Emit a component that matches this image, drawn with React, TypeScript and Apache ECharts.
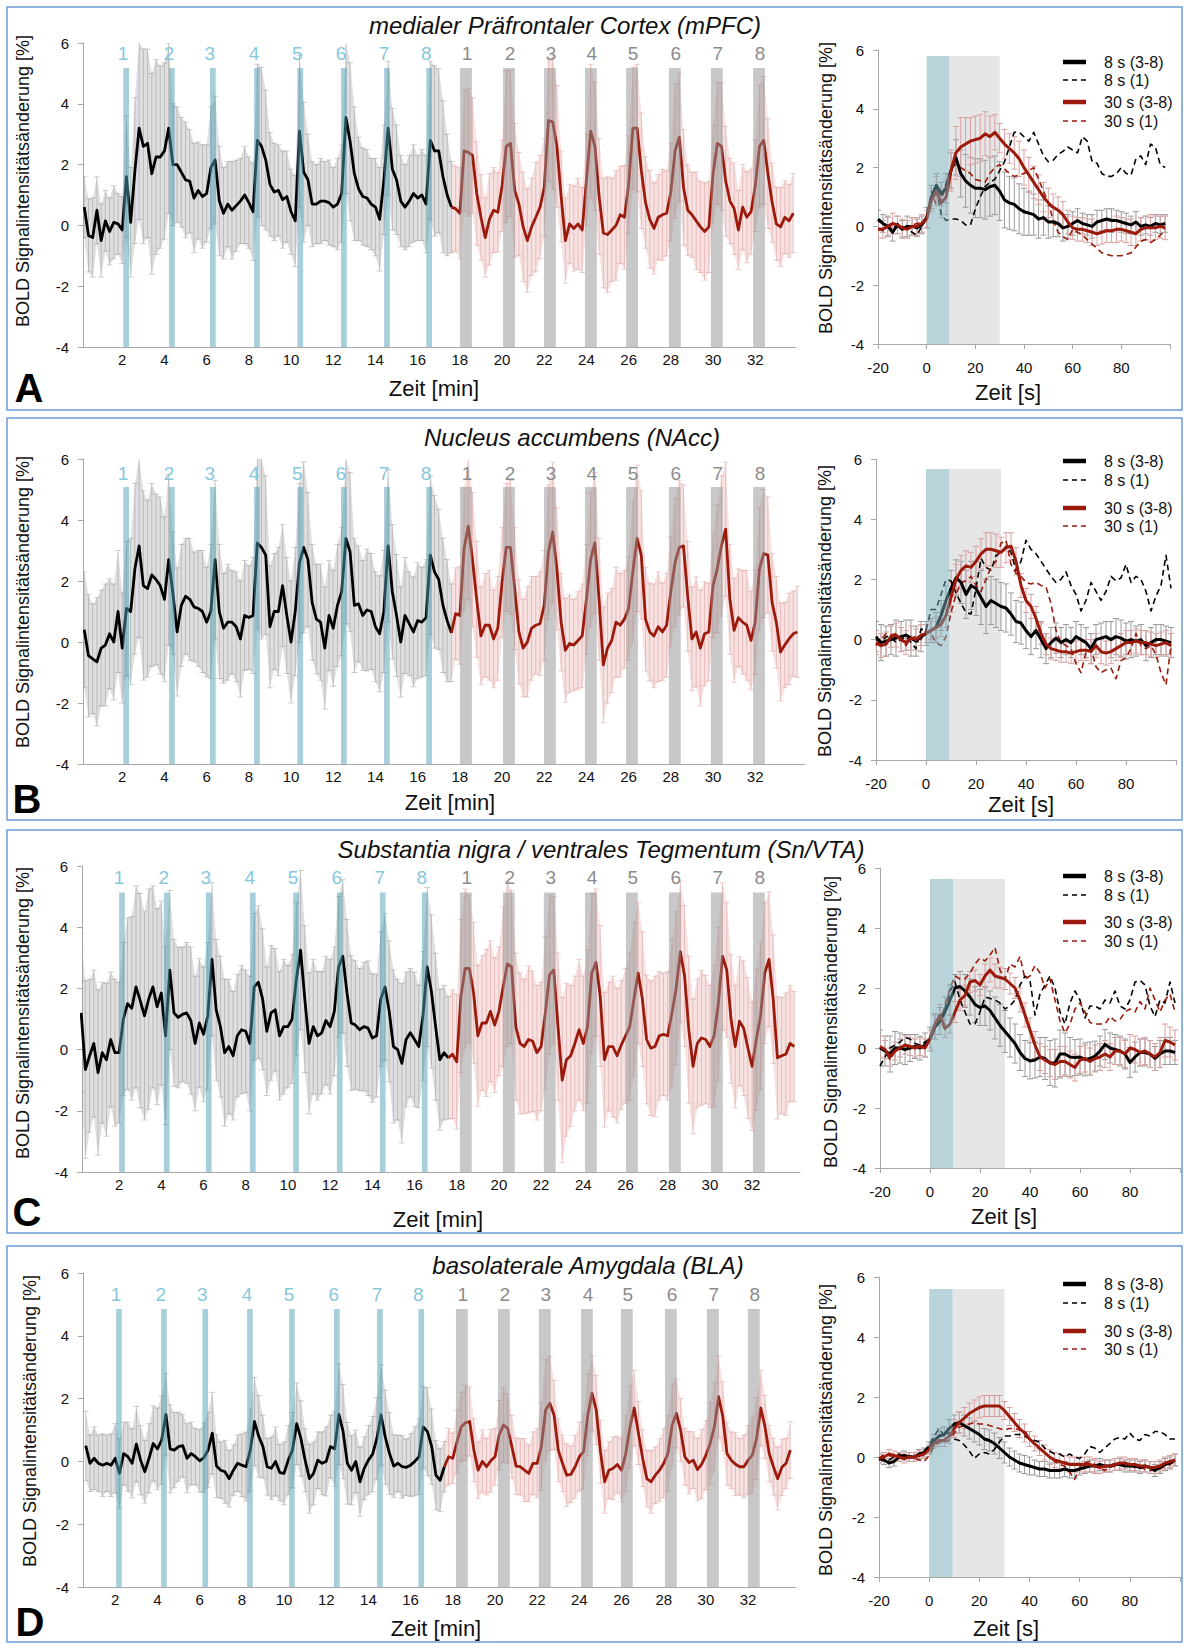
import React, { useEffect, useRef } from "react";
import * as echarts from "echarts";

const FONT = "'Liberation Sans', Arial, Helvetica, sans-serif";
const RED = "#9b1a0c";
const AXIS = "#a8a8a8";

// ---------- sampling grids ----------
const T_LEFT: number[] = Array.from({ length: 170 }, (_, i) => Math.round((0.2 + 0.2 * i) * 100) / 100); // minutes
const T_RIGHT: number[] = Array.from({ length: 60 }, (_, i) => -20 + 2 * i); // seconds
const LEFT_TICKS = [2, 4, 6, 8, 10, 12, 14, 16, 18, 20, 22, 24, 26, 28, 30, 32];
const SPLIT_MIN = 17.6; // 8 s block -> 30 s block
const STIM_8S = [0, 9.3];
const STIM_30S = [9.3, 30];

// ---------- Panel A (mPFC) ----------
const A_MEAN = [0.6,-0.33,-0.4,0.5,-0.5,0.15,-0.2,0.1,0.05,-0.15,
 1.6,0.1,1.8,3.2,2.6,2.7,1.7,2.25,2.25,2.45,
 3.2,2.0,2.0,1.75,1.5,1.45,0.9,1.15,0.95,1.05,
 1.9,2.15,0.8,0.4,0.7,0.5,0.65,0.8,1.0,0.75,
 0.45,2.8,2.6,2.15,1.35,1.1,1.15,0.85,0.95,0.45,
 0.15,3.1,1.75,1.5,0.7,0.7,0.8,0.8,0.75,0.6,
 0.7,1.05,3.55,2.75,1.7,1.2,0.95,0.9,0.7,0.6,
 0.2,1.5,3.2,1.85,1.5,0.8,0.6,0.8,1.05,0.9,
 1.0,0.7,2.8,2.45,2.45,1.6,1.0,0.6,0.55,0.4,
 2.45,2.4,2.3,1.05,0.27,-0.4,0.2,0.5,0.43,1.3,
 2.6,2.7,1.15,0.7,-0.05,-0.5,-0.05,0.27,0.6,1.25,
 3.45,3.4,2.6,0.95,-0.5,0.05,-0.1,0.05,-0.15,1.5,
 3.1,2.6,0.95,-0.25,-0.3,-0.15,0.0,0.35,0.27,1.35,
 3.2,3.2,1.8,0.75,0.2,-0.1,0.27,0.35,0.4,1.1,
 2.45,2.9,1.25,0.5,0.35,0.15,-0.05,-0.2,-0.05,1.7,
 2.7,2.6,1.45,0.8,0.55,-0.15,0.6,0.27,0.45,1.3,
 2.6,2.8,1.7,0.75,0.05,-0.05,0.27,0.15,0.4,null];
const A_ERR = [1.0,1.2,1.3,1.1,1.2,1.0,1.1,1.2,1.0,1.1,
 2.0,1.8,2.4, 3.0,3.2,3.1,3.3,3.2,3.0,2.9,2.8, 2.0,1.9,1.8,1.9,1.7,1.8,1.6,1.7,1.6,
 2.0,2.1,1.8, 1.5,1.4,1.6,1.5,1.4,1.6,1.5,1.6, 2.5,2.6,2.3, 1.7,1.6,1.5,1.6,1.5,1.4,1.5,
 2.5,2.3, 1.5,1.4,1.3,1.4,1.3,1.4,1.3,1.5,1.6, 2.5,2.6,2.2, 1.7,1.6,1.6,1.5,1.6,1.7,1.8,
 2.2,2.0,1.8, 1.5,1.4,1.5,1.6,1.4,1.5,1.6, 2.6,2.8,2.7,2.5,2.0,
 1.5,1.4,1.5, 2.0,2.1,1.9,1.7, 1.4,1.3,1.5,1.4,1.3,1.5, 2.5,2.4,2.2, 1.7,1.8,1.7,1.6,1.8,1.7,1.6,
 2.0,2.2,2.0, 1.5,1.4,1.3,1.4,1.5,1.4,1.5, 2.2,2.1,1.9, 1.8,1.9,1.7,1.8,1.6,1.7,1.6,
 2.0,2.1,1.9, 1.5,1.6,1.5,1.4,1.5,1.4,1.6, 2.2,2.1,1.9, 1.5,1.4,1.6,1.5,1.6,1.5,1.6,
 2.0,2.1,1.8, 1.4,1.5,1.3,1.4,1.5,1.4,1.5, 2.0,2.1,1.8, 1.3,1.2,1.3,1.2,1.2,1.3,1.2];
const A_BLUE = [2.05, 4.22, 6.16, 8.25, 10.3, 12.37, 14.41, 16.41];
const A_GREY = [18.01, 20.05, 21.99, 23.93, 25.88, 27.91, 29.9, 31.9];

// ---------- Panel B (NAcc) ----------
const B_MEAN = [0.4,-0.45,-0.55,-0.65,-0.2,-0.1,0.27,0,1.0,-0.2,
 1.1,1.0,2.4,3.15,1.85,1.75,2.2,2.05,1.85,1.4,
 2.7,1.6,0.33,1.2,1.5,1.4,1.15,1.1,1.0,0.65,
 1.0,2.7,1.0,0.45,0.65,0.65,0.5,0.1,0.87,0.8,
 0.87,3.25,3.1,2.85,0.5,1.0,1.0,1.85,0.87,0,
 1.0,2.6,3.1,2.7,1.3,0.75,0.65,-0.2,0.87,0.45,
 1.2,1.65,3.4,2.95,1.2,1.25,0.87,1.05,1.0,0.5,
 0.27,1.0,3.15,1.65,0.87,0,0.87,0.6,0.33,0.7,
 0.65,0.8,2.85,2.3,2.05,1.2,0.7,0.3,0.93,0.87,
 3.05,3.8,2.7,1.4,0.2,0.55,0.55,0.1,0.45,1.95,
 3.1,3.1,1.75,0.33,-0.2,0,0.45,0.55,0.6,1.2,
 2.95,3.6,2.4,0.65,-0.27,-0.05,-0.1,0.05,0.2,1.4,
 2.7,3.25,1.4,-0.75,-0.2,0.05,0.65,0.55,0.75,1.1,
 2.3,3.4,2.85,0.75,0.33,0.2,0.5,0.33,0.55,1.65,
 2.6,3.1,3.15,1.5,0.1,0.33,-0.2,0.27,0.33,1.85,
 2.4,3.15,3.7,1.4,0.38,0.8,0.65,0.55,0.05,0.65,
 2.4,2.9,2.85,1.3,0.65,-0.33,-0.1,0.1,0.27,0.33];
const B_ERR = [1.9,2.0,1.8,2.1,1.9,2.0,1.8,1.9,2.0,1.8,
 2.2,2.4,2.8, 3.0,3.1,2.9,3.0,2.8,2.9,2.7,2.8, 2.0,2.1,2.0,1.9,2.0,1.8,1.9,2.0,1.8,
 2.2,2.6,2.2, 1.8,1.9,1.7,1.8,1.9,1.8,1.7,1.9, 2.8,3.0,2.6, 2.0,1.9,2.1,2.0,1.9,2.0,2.1,
 2.6,2.8, 2.2,1.9,1.8,1.9,2.0,1.8,1.9,2.0,2.1, 2.8,2.6,2.2, 1.9,1.8,2.0,1.9,1.8,1.9,2.0,
 2.5,2.2,2.0, 1.8,1.9,1.7,1.8,1.9,1.8,1.9, 2.6,2.5,2.3,2.2,2.0,
 1.6,1.5,1.6, 2.0,2.4,2.2,1.9, 1.6,1.7,1.8,1.6,1.7,1.8, 2.1,2.2,2.0, 1.7,1.6,1.8,1.7,1.6,1.7,1.8,
 2.2,2.3,2.0, 1.6,1.7,1.6,1.5,1.6,1.7,1.8, 2.2,2.3,2.0, 1.9,1.8,1.7,1.8,1.7,1.6,1.7,
 2.3,2.4,2.1, 1.7,1.6,1.7,1.8,1.6,1.7,1.8, 2.1,2.2,2.0, 1.8,1.7,1.8,1.9,1.7,1.6,1.7,
 2.1,2.3,2.2, 1.8,1.7,1.6,1.7,1.8,1.6,1.7, 2.0,2.1,1.9, 1.6,1.5,1.6,1.4,1.5,1.4,1.5];
const B_BLUE = [2.05, 4.22, 6.16, 8.25, 10.3, 12.37, 14.41, 16.41];
const B_GREY = [18.01, 20.05, 21.99, 23.93, 25.88, 27.91, 29.9, 31.9];

// ---------- Panel C (Sn/VTA) ----------
const C_MEAN = [1.2,-0.65,-0.2,0.2,-0.75,-0.1,-0.33,0.33,-0.1,-0.1,
 1.0,1.5,1.35,2.05,1.6,1.1,1.65,2.05,1.4,1.85,
 0.45,2.6,1.2,1.05,1.15,1.2,0.95,0.2,0.87,0.5,
 1.1,2.95,1.3,0.75,-0.1,0.1,-0.2,0.45,0.65,0.6,
 0.2,2.05,2.2,1.65,0.6,1.2,1.3,0.45,0.75,0.75,
 1.0,2.3,3.25,1.65,0.2,0.75,0.45,0.55,0.95,0.75,
 1.25,2.7,3.05,1.85,0.87,0.8,0.65,0.75,0.7,0.38,
 0.45,1.65,2.05,1.25,0.1,0,-0.45,0.33,0.55,0.33,
 0.1,1.1,2.7,1.9,0.75,-0.33,-0.1,-0.27,-0.15,-0.4,
 1.75,2.65,2.65,1.85,0.45,0.87,0.87,1.25,0.8,1.25,
 2.05,2.8,2.7,0.75,0.2,0.1,0.33,0.27,-0.1,0.1,
 1.2,2.45,2.6,0.75,-1.0,-0.33,-0.2,0.2,0.65,0.2,
 0.75,2.5,2.85,1.75,-0.33,0.1,0.1,-0.2,0.15,0.45,
 0.75,1.65,2.5,1.65,0.33,0.05,0.1,0.45,0.5,0.45,
 1.2,2.0,3.2,2.4,0.65,-0.55,0.2,0.38,0.33,0.1,
 0.45,1.5,3.05,2.6,1.0,0.1,0.93,0.7,0.05,-0.55,
 0.33,1.1,2.5,2.95,1.65,-0.27,-0.2,-0.15,0.2,0.1];
const C_ERR = [2.6,2.9,2.5,2.4,2.7,2.3,2.5,2.2,2.4,2.3,
 2.5,2.8,3.0, 3.3,3.5,3.4,3.6,3.3,3.2,3.0,2.9, 2.6,2.4,2.3,2.2,2.3,2.4,2.2,2.1,2.2,
 2.4,2.5,2.3, 2.3,2.4,2.2,2.1,2.0,2.1,2.0,2.2, 2.4,2.5,2.3, 2.1,2.2,2.0,2.1,2.2,2.0,2.1,
 2.5,2.6, 2.4,2.3,2.2,2.1,2.0,2.1,2.2,2.1,2.3, 2.5,2.4,2.2, 2.1,2.0,2.1,2.2,2.1,2.0,2.2,
 2.4,2.3,2.5, 2.3,2.6,2.2,2.1,2.2,2.0,2.1, 2.6,2.5,2.4,2.3,2.2,
 2.0,2.1,2.2, 2.5,2.6,2.4,2.3, 2.3,2.2,2.4,2.3,2.2,2.1, 2.6,2.7,2.5, 2.4,2.3,2.2,2.4,2.3,2.2,2.1,
 2.5,2.6,2.4, 2.4,2.7,2.5,2.3,2.2,2.3,2.2, 2.5,2.6,2.4, 2.3,2.2,2.1,2.3,2.2,2.1,2.2,
 2.4,2.5,2.3, 2.2,2.1,2.2,2.3,2.1,2.0,2.1, 2.4,2.5,2.3, 2.3,2.4,2.2,2.1,2.2,2.1,2.0,
 2.3,2.5,2.4, 2.2,2.1,2.0,2.1,2.2,2.3,2.1, 2.3,2.4,2.3, 2.2,2.1,2.0,1.9,2.0,1.9,1.8];
const C_BLUE = [2.0, 4.12, 6.11, 8.2, 10.25, 12.32, 14.36, 16.35];
const C_GREY = [18.15, 20.19, 22.13, 24.08, 26.02, 28.06, 30.05, 32.04];

// ---------- Panel D (BLA) ----------
const D_MEAN = [null,null,0.5,-0.06,0.1,-0.06,-0.12,-0.06,-0.12,0.1,
 -0.38,0.25,0.15,-0.06,0.55,0.04,-0.33,0.1,0.57,0.4,
 0.68,1.5,0.4,0.36,0.47,0.5,0.1,0.25,0.15,0.02,
 0.12,0.36,0.9,-0.15,-0.28,-0.33,-0.55,-0.28,-0.06,-0.12,
 -0.17,0.36,1.27,0.8,0.47,-0.17,-0.22,0,-0.36,-0.38,
 0.04,0.36,1.2,0.73,0.04,-0.55,-0.38,0.04,-0.06,0,
 0.47,0.4,1.5,0.95,-0.06,-0.28,0,-0.65,-0.22,0.04,
 0.23,0.73,1.48,0.77,0.25,-0.15,-0.06,-0.17,-0.19,-0.12,
 0,0.15,1.1,0.95,0.47,-0.44,-0.6,-0.17,0.15,0.1,
 0.63,1.1,1.23,1.27,0.36,-0.28,0,-0.17,0.02,0.15,
 0.84,1.16,1.05,0.47,-0.15,-0.17,-0.28,-0.38,-0.06,-0.06,
 0.47,1.64,1.85,1.48,0.36,-0.06,-0.44,-0.41,-0.17,0.15,
 0.31,1.48,2.17,1.64,0.31,-0.65,-0.28,-0.22,-0.1,-0.28,
 0.25,1.1,1.7,0.9,0.1,-0.55,-0.65,-0.44,-0.28,-0.06,
 0.25,1.16,1.53,1.0,0.15,-0.04,0.04,-0.26,-0.09,0.2,
 0.57,1.1,2.06,1.43,0.25,0.04,-0.09,-0.17,-0.17,0.04,
 0.2,0.73,1.7,1.1,0.25,-0.17,-0.55,-0.19,-0.06,0.36];
const D_ERR = [1.0,1.0,1.1,0.9,1.0,0.9,1.0,0.9,1.0,1.1,
 1.1,1.0,1.1, 1.1,1.2,1.1,1.0,1.1,1.2,1.3,1.4, 1.3,1.4,1.2,1.1,1.0,1.1,1.0,0.9,1.0,
 1.1,1.2,1.3, 1.0,0.9,1.0,0.9,0.8,0.9,1.0,1.1, 1.3,1.4,1.3, 1.0,0.9,1.0,1.1,0.9,1.0,1.1,
 1.2,1.3, 1.2,1.0,1.1,1.0,0.9,1.0,1.1,1.0,1.2, 1.6,1.5,1.3, 1.1,1.0,1.1,1.0,1.1,1.2,1.3,
 1.6,1.5,1.3, 1.0,0.9,1.0,0.9,1.0,1.1,1.2, 1.3,1.4,1.2,1.1,1.0,
 0.8,0.9,0.8, 1.0,1.1,1.2,1.1, 1.0,0.9,1.0,0.9,1.0,0.9, 1.1,1.2,1.1, 1.0,0.9,0.9,1.0,0.9,1.0,1.1,
 1.4,1.6,1.5, 1.1,1.0,0.9,1.0,0.9,1.0,1.1, 1.2,1.3,1.2, 1.1,1.0,1.0,0.9,1.0,0.9,1.0,
 1.2,1.3,1.2, 1.0,0.9,0.9,1.0,0.9,1.0,1.1, 1.2,1.3,1.1, 1.0,0.9,1.0,0.9,1.0,1.1,1.1,
 1.3,1.4,1.3, 1.1,1.0,0.9,1.0,0.9,1.0,1.1, 1.2,1.3,1.2, 1.0,0.9,0.9,1.0,0.9,0.8,0.9];
const D_BLUE = [2.04, 4.17, 6.13, 8.25, 10.24, 12.37, 14.41, 16.37];
const D_GREY = [18.15, 20.14, 22.08, 24.08, 25.97, 28.06, 30.05, 31.99];

// ---------- event-related averages (t = -20..98 s) ----------
const RA_BLK = [0.25,0.1,0.0,-0.2,0.05,-0.1,0.0,0.0,-0.05,0.05, 0.3,1.0,1.4,1.1,1.3,1.9,2.35,1.8,1.55,1.4, 1.3,1.3,1.25,1.35,1.4,1.2,0.9,0.8,0.75,0.6, 0.5,0.45,0.4,0.25,0.3,0.15,0.15,0.1,-0.05,0.0, 0.1,0.2,0.1,0.05,0.0,0.15,0.2,0.25,0.2,0.2, 0.15,0.1,0.05,0.15,0.0,0.05,0.0,0.1,0.05,0.1];
const RA_BLK1 = [0.2,0.1,0.0,-0.1,0.1,0.0,-0.1,-0.2,-0.3,0.0, 0.3,1.0,1.3,0.4,0.2,0.25,0.25,0.2,0.05,0.05, 0.6,1.0,1.35,1.5,1.6,1.9,2.2,2.7,3.2,3.2, 3.05,2.9,3.2,2.8,2.4,2.2,2.25,2.45,2.55,2.7, 2.6,2.5,3.05,2.9,2.2,2.15,1.8,1.7,1.7,1.8, 2.0,1.8,1.75,2.3,2.4,2.1,2.8,2.7,2.1,2.0];
const RA_RED = [-0.1,-0.1,0.0,0.1,0.05,-0.05,-0.1,0.0,0.0,0.1, 0.25,0.9,1.2,0.8,1.0,1.9,2.5,2.7,2.8,2.9, 2.95,3.0,3.15,3.05,3.2,3.0,2.8,2.65,2.5,2.3, 2.0,1.75,1.5,1.25,1.0,0.8,0.65,0.55,0.4,0.15, -0.05,-0.1,-0.1,-0.15,-0.2,-0.25,-0.2,-0.15,-0.15,-0.1, -0.1,-0.15,-0.2,-0.25,-0.1,-0.05,-0.05,-0.05,0.0,-0.05];
const RA_RED1 = [-0.1,-0.15,0.0,0.05,0.0,-0.1,-0.05,0.05,0.1,0.15, 0.3,1.2,0.7,0.8,1.5,2.0,2.1,2.0,1.9,1.8, 1.6,1.55,1.5,1.8,2.0,2.1,1.95,1.8,1.7,1.75, 1.8,1.9,2.0,1.6,1.2,0.8,0.2,-0.2,-0.35,-0.45, -0.1,-0.2,-0.3,-0.45,-0.6,-0.75,-0.9,-0.95,-1.0,-1.0, -1.0,-0.95,-0.9,-0.7,-0.5,-0.45,-0.55,-0.45,-0.3,-0.1];
const RA_BLK_ERR = [0.3,0.3,0.35,0.3,0.3,0.3,0.35,0.3,0.3,0.3, 0.35,0.4,0.4,0.4,0.5,0.6,0.6,0.8,0.9,0.95, 1.0,1.0,1.0,1.0,1.0,1.0,0.95,0.9,0.9,0.85, 0.8,0.75,0.7,0.65,0.6,0.55,0.5,0.45,0.45,0.4, 0.4,0.4,0.35,0.35,0.4,0.4,0.35,0.35,0.4,0.35, 0.35,0.35,0.3,0.35,0.3,0.3,0.3,0.3,0.3,0.3];
const RA_RED_ERR = [0.3,0.3,0.3,0.35,0.3,0.3,0.3,0.3,0.3,0.3, 0.3,0.4,0.5,0.5,0.6,0.7,0.9,1.0,0.9,0.8, 0.8,0.8,0.75,0.7,0.6,0.5,0.5,0.5,0.55,0.6, 0.6,0.6,0.55,0.5,0.5,0.5,0.45,0.45,0.45,0.4, 0.4,0.4,0.4,0.4,0.45,0.4,0.4,0.4,0.4,0.45, 0.4,0.4,0.45,0.4,0.4,0.4,0.45,0.4,0.4,0.4];

const RB_BLK = [0.1,-0.1,-0.05,0.0,0.05,0.1,0.15,0.05,-0.05,0.1, 0.2,0.3,0.4,0.8,1.3,1.7,2.05,1.9,1.5,1.8, 1.7,1.4,1.1,1.3,1.2,1.1,1.05,0.85,0.6,0.55, 0.3,0.1,0.3,0.0,-0.3,-0.1,0.05,-0.1,0.0,-0.1, 0.1,0.0,-0.1,-0.3,0.0,0.05,0.1,0.0,0.1,0.05, -0.05,0.0,-0.05,0.0,-0.2,-0.1,0.0,0.0,-0.05,-0.1];
const RB_BLK1 = [0.0,-0.1,0.1,0.1,-0.1,0.0,0.1,-0.1,-0.3,0.35, 0.3,1.0,1.0,1.5,2.0,1.95,1.55,1.2,0.9,0.85, 1.7,2.7,2.4,2.3,2.8,2.9,3.1,2.9,2.3,2.6, 3.3,3.0,2.85,2.6,2.35,2.1,1.9,2.0,2.25,1.8, 1.5,0.95,1.3,1.9,1.6,1.3,1.6,2.1,1.95,2.05, 2.5,1.9,2.1,2.0,1.6,0.95,1.45,1.8,2.8,1.7];
const RB_RED = [-0.1,-0.2,-0.15,0.1,0.15,0.0,-0.1,0.05,0.0,0.15, 0.2,0.3,0.4,0.5,0.8,1.4,2.0,2.3,2.45,2.4, 2.6,2.85,3.0,3.0,2.95,2.9,3.05,3.1,2.6,1.8, 1.3,1.1,0.7,0.2,-0.15,-0.3,-0.35,-0.4,-0.4,-0.45, -0.4,-0.35,-0.35,-0.4,-0.2,-0.4,-0.45,-0.4,-0.3,-0.2, -0.1,-0.1,-0.05,-0.1,-0.1,-0.15,-0.2,-0.15,-0.1,-0.2];
const RB_RED1 = [-0.2,0.0,0.2,0.15,0.2,0.0,-0.2,0.05,0.1,0.0, 0.3,0.2,-0.1,-0.2,0.1,0.9,1.5,1.9,1.95,2.1, 1.8,1.6,2.0,2.4,2.6,3.2,3.3,2.5,2.2,2.1, 1.9,1.85,1.9,1.8,1.75,1.2,0.3,-0.1,-0.2,-0.3, -0.8,-1.1,-0.4,-0.3,-0.9,-1.1,-1.0,-0.95,-1.3,-0.7, -0.6,-0.3,0.2,-0.2,-0.3,-0.2,-0.5,-1.1,-1.5,-0.2];
const RB_BLK_ERR = [0.5,0.6,0.5,0.5,0.6,0.5,0.5,0.6,0.5,0.5, 0.4,0.4,0.5,0.5,0.5,0.6,0.6,0.7,0.8,0.8, 0.9,0.9,0.9,0.8,0.8,0.8,0.8,0.7,0.7,0.7, 0.6,0.6,0.6,0.6,0.5,0.5,0.5,0.5,0.5,0.5, 0.5,0.5,0.5,0.5,0.5,0.5,0.5,0.6,0.6,0.6, 0.6,0.6,0.5,0.5,0.5,0.5,0.5,0.5,0.5,0.5];
const RB_RED_ERR = [0.4,0.4,0.4,0.35,0.4,0.4,0.4,0.4,0.35,0.35, 0.3,0.3,0.35,0.4,0.4,0.5,0.5,0.5,0.5,0.5, 0.5,0.5,0.55,0.55,0.55,0.5,0.5,0.45,0.45,0.4, 0.4,0.4,0.4,0.35,0.35,0.35,0.35,0.35,0.35,0.35, 0.35,0.35,0.35,0.4,0.4,0.4,0.4,0.4,0.4,0.4, 0.4,0.4,0.4,0.4,0.4,0.4,0.4,0.4,0.4,0.4];

const RC_BLK = [0.0,-0.1,-0.2,0.0,0.0,-0.05,0.0,0.05,0.0,0.1, 0.3,0.7,0.9,1.2,1.6,2.0,2.05,1.9,1.7,1.45, 1.35,1.4,1.25,1.0,0.75,0.55,0.35,0.15,-0.15,-0.35, -0.43,-0.4,-0.3,-0.35,-0.5,-0.5,-0.2,-0.2,-0.3,-0.32, -0.3,-0.38,-0.35,-0.27,-0.1,0.12,0.0,-0.05,-0.1,-0.2, -0.48,-0.3,-0.15,-0.15,-0.2,-0.35,-0.2,-0.1,-0.1,-0.15];
const RC_BLK1 = [-0.6,-0.3,0.0,0.1,0.2,0.35,0.3,0.15,0.1,0.2, 0.3,0.7,1.0,1.3,1.9,2.2,1.6,1.2,0.8,0.8, 1.2,1.7,1.65,1.6,1.5,1.3,1.4,1.6,2.1,2.4, 2.25,1.1,1.8,2.1,2.4,2.0,1.2,0.8,1.5,1.9, 1.6,1.0,1.4,1.4,1.3,1.6,1.5,1.9,1.4,1.3, 1.6,2.2,2.25,2.1,1.4,1.05,1.6,1.5,2.2,1.5];
const RC_RED = [0.05,-0.05,-0.3,-0.1,0.0,0.1,0.05,0.0,0.05,0.0, 0.3,0.8,1.1,0.65,0.8,1.2,1.6,1.75,2.2,2.25, 2.1,2.4,2.6,2.4,2.35,2.3,2.15,2.0,1.6,1.1, 0.6,0.1,-0.3,-0.4,-0.5,-0.55,-0.45,-0.45,-0.55,-0.65, -0.4,-0.35,-0.45,-0.35,-0.3,-0.2,-0.3,-0.1,-0.1,-0.2, 0.0,-0.05,-0.15,-0.1,-0.2,-0.3,-0.15,0.25,0.2,0.1];
const RC_RED1 = [0.0,-0.1,-0.4,-0.1,0.0,0.1,0.0,0.0,0.1,0.0, 0.3,0.8,0.9,1.4,2.0,2.4,2.3,2.3,2.5,2.8, 3.0,2.9,3.1,3.35,2.6,2.3,2.8,2.7,3.05,2.3, 2.4,2.75,2.5,2.0,2.3,1.6,0.9,0.5,0.8,1.3, 1.5,1.2,0.85,0.8,0.8,0.8,1.05,0.9,0.95,1.2, 1.3,1.2,1.55,1.3,2.0,1.6,1.2,1.6,1.8,1.2];
const RC_BLK_ERR = [0.6,0.5,0.6,0.55,0.5,0.5,0.45,0.4,0.4,0.4, 0.4,0.4,0.45,0.5,0.5,0.45,0.5,0.55,0.6,0.6, 0.6,0.65,0.65,0.7,0.7,0.7,0.65,0.65,0.6,0.6, 0.6,0.6,0.65,0.7,0.75,0.8,0.8,0.7,0.65,0.6, 0.6,0.55,0.55,0.5,0.5,0.5,0.5,0.5,0.5,0.5, 0.5,0.5,0.45,0.45,0.45,0.4,0.45,0.45,0.45,0.4];
const RC_RED_ERR = [0.35,0.3,0.3,0.3,0.3,0.3,0.3,0.3,0.3,0.3, 0.3,0.35,0.35,0.3,0.3,0.35,0.35,0.35,0.35,0.35, 0.35,0.4,0.4,0.4,0.35,0.35,0.35,0.35,0.4,0.4, 0.4,0.45,0.45,0.45,0.45,0.5,0.5,0.5,0.45,0.45, 0.45,0.45,0.45,0.45,0.45,0.45,0.45,0.45,0.45,0.45, 0.45,0.45,0.45,0.45,0.45,0.45,0.5,0.55,0.5,0.5];

const RD_BLK = [-0.05,-0.1,-0.2,-0.15,0.0,0.05,0.0,0.0,0.1,0.15, 0.3,0.55,0.7,0.75,0.95,1.1,1.15,1.05,0.95,0.85, 0.75,0.6,0.55,0.45,0.3,0.15,0.0,-0.1,-0.2,-0.25, -0.3,-0.35,-0.4,-0.4,-0.45,-0.45,-0.45,-0.4,-0.45,-0.45, -0.4,-0.35,-0.3,-0.3,-0.25,-0.3,-0.3,-0.25,-0.25,-0.3, -0.3,-0.3,-0.35,-0.3,-0.35,-0.45,-0.35,-0.25,-0.2,-0.1];
const RD_BLK1 = [-0.1,-0.05,-0.1,0.0,0.1,0.0,0.05,0.0,0.1,0.2, 0.4,0.7,0.95,0.7,0.8,0.6,0.55,0.4,0.2,-0.05, 0.1,0.15,0.1,0.25,0.5,0.7,0.7,0.75,0.75,0.7, 0.6,0.55,0.5,0.3,0.2,0.1,0.1,0.0,0.1,0.0, -0.05,0.1,0.35,0.3,0.15,0.3,0.45,0.6,0.65,0.6, 0.8,0.6,0.55,0.75,0.7,0.85,0.85,0.75,0.6,0.6];
const RD_RED = [-0.05,0.0,0.1,0.05,0.0,-0.05,0.0,0.0,0.05,0.1, 0.25,0.45,0.55,0.55,0.7,0.95,1.15,1.3,1.45,1.55, 1.65,1.7,1.7,1.7,1.7,1.55,1.35,1.15,0.95,0.8, 0.6,0.45,0.3,0.15,0.0,-0.1,-0.15,-0.2,-0.25,-0.25, -0.25,-0.25,-0.25,-0.3,-0.35,-0.3,-0.3,-0.25,-0.2,-0.2, -0.25,-0.25,-0.3,-0.3,-0.35,-0.35,-0.3,-0.2,-0.15,-0.1];
const RD_RED1 = [-0.05,0.1,0.05,0.0,0.05,0.1,0.0,-0.05,-0.1,-0.15, 0.05,0.35,0.5,0.5,0.55,0.8,1.0,1.05,1.1,1.15, 1.1,1.1,1.05,1.0,0.95,0.9,0.95,0.95,0.9,0.9, 0.6,0.4,0.25,0.15,0.0,-0.15,-0.25,-0.3,-0.5,-0.75, -0.35,-0.2,-0.15,-0.25,-0.35,-0.45,-0.35,-0.3,-0.25,-0.25, -0.3,-0.35,-0.35,-0.4,-0.45,-0.45,-0.4,-0.3,-0.25,-0.15];
const RD_BLK_ERR = [0.15,0.15,0.15,0.15,0.15,0.15,0.15,0.15,0.15,0.15, 0.2,0.2,0.25,0.25,0.3,0.3,0.35,0.35,0.35,0.35, 0.35,0.35,0.35,0.35,0.35,0.35,0.3,0.3,0.3,0.3, 0.3,0.25,0.25,0.25,0.25,0.25,0.25,0.25,0.25,0.25, 0.2,0.2,0.2,0.2,0.2,0.2,0.2,0.2,0.2,0.2, 0.2,0.2,0.2,0.2,0.2,0.2,0.2,0.2,0.2,0.2];
const RD_RED_ERR = [0.15,0.15,0.15,0.15,0.15,0.15,0.15,0.15,0.15,0.15, 0.15,0.15,0.2,0.2,0.25,0.3,0.35,0.35,0.35,0.35, 0.35,0.35,0.35,0.35,0.35,0.3,0.3,0.3,0.3,0.3, 0.25,0.25,0.25,0.25,0.25,0.25,0.25,0.25,0.25,0.25, 0.25,0.25,0.25,0.25,0.2,0.2,0.2,0.2,0.2,0.2, 0.2,0.2,0.2,0.2,0.2,0.2,0.2,0.2,0.2,0.2];

const LEGEND = ["8 s (3-8)", "8 s (1)", "30 s (3-8)", "30 s (1)"];
const Y_TITLE = "BOLD Signalintensitätsänderung [%]";

const DATA = [
  { mean: A_MEAN, err: A_ERR, blue: A_BLUE, grey: A_GREY, blk: RA_BLK, blk1: RA_BLK1, red: RA_RED, red1: RA_RED1, blkErr: RA_BLK_ERR, redErr: RA_RED_ERR },
  { mean: B_MEAN, err: B_ERR, blue: B_BLUE, grey: B_GREY, blk: RB_BLK, blk1: RB_BLK1, red: RB_RED, red1: RB_RED1, blkErr: RB_BLK_ERR, redErr: RB_RED_ERR },
  { mean: C_MEAN, err: C_ERR, blue: C_BLUE, grey: C_GREY, blk: RC_BLK, blk1: RC_BLK1, red: RC_RED, red1: RC_RED1, blkErr: RC_BLK_ERR, redErr: RC_RED_ERR },
  { mean: D_MEAN, err: D_ERR, blue: D_BLUE, grey: D_GREY, blk: RD_BLK, blk1: RD_BLK1, red: RD_RED, red1: RD_RED1, blkErr: RD_BLK_ERR, redErr: RD_RED_ERR },
];

// ---------- layout (pixels) ----------
const LAYOUT = [
  { title: "medialer Präfrontaler Cortex (mPFC)", letter: "A", box: [7, 7, 1182, 410], titleXY: [565, 25], letterXY: [29, 388],
    lg: { left: 83, right: 796, top: 43, bottom: 347, xMin: 0.14, xMax: 33.93 }, barTop: 5.18, numY: 5.67,
    rg: { left: 878, right: 1170, top: 50, bottom: 344 }, shadeTop: 5.8,
    xtL: [434, 388], xtR: [1008, 392], ytL: [23, 181], ytR: [826, 188], legY: [62, 80, 102, 121] },
  { title: "Nucleus accumbens (NAcc)", letter: "B", box: [7, 418, 1182, 820], titleXY: [572, 437], letterXY: [27, 799],
    lg: { left: 83, right: 805, top: 459, bottom: 764, xMin: 0.14, xMax: 34.36 }, barTop: 5.08, numY: 5.54,
    rg: { left: 876, right: 1176, top: 459, bottom: 760 }, shadeTop: 5.67,
    xtL: [450, 802], xtR: [1021, 804], ytL: [23, 602], ytR: [825, 611], legY: [461, 480, 508, 526] },
  { title: "Substantia nigra / ventrales Tegmentum (Sn/VTA)", letter: "C", box: [7, 830, 1182, 1233], titleXY: [601, 849], letterXY: [27, 1212],
    lg: { left: 82, right: 800, top: 866, bottom: 1172, xMin: 0.24, xMax: 34.27 }, barTop: 5.13, numY: 5.64,
    rg: { left: 880, right: 1180, top: 868, bottom: 1168 }, shadeTop: 5.63,
    xtL: [438, 1219], xtR: [1004, 1216], ytL: [23, 1013], ytR: [831, 1022], legY: [876, 895, 922, 941] },
  { title: "basolaterale Amygdala (BLA)", letter: "D", box: [7, 1246, 1182, 1642], titleXY: [588, 1265], letterXY: [30, 1622],
    lg: { left: 83, right: 796, top: 1273, bottom: 1587, xMin: 0.47, xMax: 34.27 }, barTop: 4.85, numY: 5.33,
    rg: { left: 879, right: 1180, top: 1277, bottom: 1577 }, shadeTop: 5.6,
    xtL: [436, 1628], xtR: [1006, 1628], ytL: [30, 1421], ytR: [826, 1430], legY: [1284, 1303, 1331, 1349] },
];

function errSeries(ax: number, data: any[], color: string, cap: number, lw: number, z: number) {
  return {
    type: "custom", xAxisIndex: ax, yAxisIndex: ax, z, silent: true, clip: true,
    data, encode: { x: 0, y: [1, 2] },
    renderItem: (_p: any, api: any) => {
      const x = api.value(0), lo = api.value(1), hi = api.value(2);
      const a = api.coord([x, lo]), b = api.coord([x, hi]);
      const st = { stroke: color, lineWidth: lw, fill: "none" };
      return { type: "group", children: [
        { type: "line", shape: { x1: a[0], y1: a[1], x2: b[0], y2: b[1] }, style: st },
        { type: "line", shape: { x1: a[0] - cap, y1: a[1], x2: a[0] + cap, y2: a[1] }, style: st },
        { type: "line", shape: { x1: b[0] - cap, y1: b[1], x2: b[0] + cap, y2: b[1] }, style: st },
      ] };
    },
  };
}

// filled envelope (mean ± error) drawn as one polygon
function bandSeries(ax: number, pts: any[], fill: string, z: number) {
  return {
    type: "custom", xAxisIndex: ax, yAxisIndex: ax, z, silent: true, clip: true,
    data: pts.length ? [[pts[0][0], pts[0][1]]] : [], encode: { x: 0, y: 1 },
    renderItem: (_p: any, api: any) => {
      const up = pts.map((p: any) => api.coord([p[0], Math.min(6, p[2])]));
      const dn = pts.slice().reverse().map((p: any) => api.coord([p[0], Math.max(-4, p[1])]));
      return { type: "polygon", shape: { points: up.concat(dn) }, style: { fill } };
    },
  };
}

function lineSeries(ax: number, data: any[], color: string, width: number, dash: any, z: number) {
  return {
    type: "line", xAxisIndex: ax, yAxisIndex: ax, data, showSymbol: false, symbol: "none", silent: true, z, clip: true,
    lineStyle: { color, width, type: dash || "solid", join: "round", cap: "butt" }, itemStyle: { color },
    emphasis: { disabled: true },
  };
}

function stimSeries(ax: number, onsets: number[], width: number, top: number, labelY: number, fill: string, labelColor: string, dx: number) {
  return {
    type: "custom", xAxisIndex: ax, yAxisIndex: ax, z: 6, silent: true,
    data: onsets.map((t, i) => [t, i + 1]), encode: { x: 0 },
    renderItem: (_p: any, api: any) => {
      const t = api.value(0), n = api.value(1);
      const a = api.coord([t, -4]), b = api.coord([t + width, top]);
      const lp = api.coord([t + width / 2, labelY]);
      return { type: "group", children: [
        { type: "rect", shape: { x: a[0], y: b[1], width: b[0] - a[0], height: a[1] - b[1] }, style: { fill } },
        { type: "text", x: lp[0] + dx, y: lp[1], style: { text: String(n), fill: labelColor, fontSize: 19, fontFamily: FONT, align: "center", verticalAlign: "middle" } },
      ] };
    },
  };
}

function shadeSeries(ax: number, win: number[], top: number, fill: string, z: number) {
  return {
    type: "custom", xAxisIndex: ax, yAxisIndex: ax, z, silent: true,
    data: [[win[0], win[1]]], encode: { x: [0, 1] },
    renderItem: (_p: any, api: any) => {
      const a = api.coord([api.value(0), -4]), b = api.coord([api.value(1), top]);
      return { type: "rect", shape: { x: a[0], y: b[1], width: b[0] - a[0], height: a[1] - b[1] }, style: { fill } };
    },
  };
}

function buildOption() {
  const grids: any[] = [], xAxes: any[] = [], yAxes: any[] = [], series: any[] = [], graphics: any[] = [];
  const axisLine = { show: true, onZero: false, lineStyle: { color: AXIS, width: 1 } };
  const yAxisBase = (gi: number) => ({
    type: "value", gridIndex: gi, min: -4, max: 6, interval: 2,
    axisLine, axisTick: { show: true, length: 5, lineStyle: { color: AXIS } },
    axisLabel: { fontSize: 15, color: "#111", margin: 14, fontFamily: FONT },
    splitLine: { show: false },
  });

  LAYOUT.forEach((L, p) => {
    const D = DATA[p];
    const gl = p * 2, gr = p * 2 + 1;
    grids.push({ left: L.lg.left, top: L.lg.top, width: L.lg.right - L.lg.left, height: L.lg.bottom - L.lg.top, containLabel: false, outerBoundsMode: "none" });
    grids.push({ left: L.rg.left, top: L.rg.top, width: L.rg.right - L.rg.left, height: L.rg.bottom - L.rg.top, containLabel: false, outerBoundsMode: "none" });
    xAxes.push({
      type: "value", gridIndex: gl, min: L.lg.xMin, max: L.lg.xMax,
      axisLine, axisTick: { show: false }, splitLine: { show: false },
      axisLabel: { customValues: LEFT_TICKS, fontSize: 15, color: "#111", margin: 5, fontFamily: FONT },
    });
    xAxes.push({
      type: "value", gridIndex: gr, min: -20, max: 100, interval: 20,
      axisLine, axisTick: { show: true, length: 5, lineStyle: { color: AXIS } }, splitLine: { show: false },
      axisLabel: { fontSize: 15, color: "#111", margin: 16, fontFamily: FONT, formatter: (v: number) => (v === 100 ? "" : String(v)) },
    });
    yAxes.push(yAxisBase(gl));
    yAxes.push(yAxisBase(gr));

    // ---- left: time course ----
    const blk: any[] = [], red: any[] = [], eb: any[] = [], er: any[] = [];
    D.mean.forEach((v: any, i: number) => {
      if (v === null || v === undefined) return;
      const t = T_LEFT[i];
      const e = D.err[i];
      if (t <= SPLIT_MIN) { blk.push([t, v]); eb.push([t, v - e, v + e]); }
      if (t >= SPLIT_MIN) { red.push([t, v]); er.push([t, v - e, v + e]); }
    });
    series.push(bandSeries(gl, eb, "rgba(150,150,150,0.30)", 1));
    series.push(bandSeries(gl, er, "rgba(225,150,150,0.28)", 1));
    series.push(errSeries(gl, eb, "rgba(110,110,110,0.32)", 3, 1, 2));
    series.push(errSeries(gl, er.slice(1), "rgba(200,110,110,0.32)", 3, 1, 2));
    series.push(lineSeries(gl, blk, "#000", 2.8, null, 3));
    series.push(lineSeries(gl, red, RED, 2.8, null, 3));
    series.push(stimSeries(gl, D.blue, 0.27, L.barTop, L.numY, "rgba(80,160,180,0.5)", "#86c8dc", -3));
    series.push(stimSeries(gl, D.grey, 0.56, L.barTop, L.numY, "rgba(145,145,145,0.5)", "#8c8c8c", 1));

    // ---- right: event-related average ----
    const pts = (arr: number[]) => arr.map((v, i) => [T_RIGHT[i], v]);
    const errs = (arr: number[], e: number[]) => arr.map((v, i) => [T_RIGHT[i], v - e[i], v + e[i]]);
    series.push(shadeSeries(gr, STIM_30S, L.shadeTop, "#e6e6e6", 1));
    series.push(errSeries(gr, errs(D.blk, D.blkErr), "#9a9a9a", 3, 1, 2));
    series.push(errSeries(gr, errs(D.red, D.redErr), "#d9a0a0", 3, 1, 2));
    series.push(lineSeries(gr, pts(D.blk1), "#000", 1.6, [6, 4], 3));
    series.push(lineSeries(gr, pts(D.red1), RED, 1.6, [6, 4], 3));
    series.push(lineSeries(gr, pts(D.blk), "#000", 3, null, 4));
    series.push(lineSeries(gr, pts(D.red), RED, 3, null, 4));
    series.push(shadeSeries(gr, STIM_8S, L.shadeTop, "rgba(113,169,181,0.5)", 6));

    // ---- texts, frames, legend ----
    const [bx0, by0, bx1, by1] = L.box;
    graphics.push({ type: "rect", silent: true, z: 50, shape: { x: bx0, y: by0, width: bx1 - bx0, height: by1 - by0 }, style: { fill: "none", stroke: "#6d9cd6", lineWidth: 1.5 } });
    graphics.push({ type: "text", silent: true, z: 50, x: L.titleXY[0], y: L.titleXY[1], style: { text: L.title, fontSize: 24, fontStyle: "italic", fontFamily: FONT, fill: "#111", align: "center", verticalAlign: "middle" } });
    graphics.push({ type: "text", silent: true, z: 50, x: L.letterXY[0], y: L.letterXY[1], style: { text: L.letter, fontSize: 40, fontWeight: "bold", fontFamily: FONT, fill: "#000", align: "center", verticalAlign: "middle" } });
    graphics.push({ type: "text", silent: true, z: 50, x: L.xtL[0], y: L.xtL[1], style: { text: "Zeit [min]", fontSize: 22, fontFamily: FONT, fill: "#111", align: "center", verticalAlign: "middle" } });
    graphics.push({ type: "text", silent: true, z: 50, x: L.xtR[0], y: L.xtR[1], style: { text: "Zeit [s]", fontSize: 22, fontFamily: FONT, fill: "#111", align: "center", verticalAlign: "middle" } });
    graphics.push({ type: "text", silent: true, z: 50, x: L.ytL[0], y: L.ytL[1], rotation: Math.PI / 2, style: { text: Y_TITLE, fontSize: 18, fontFamily: FONT, fill: "#111", align: "center", verticalAlign: "middle" } });
    graphics.push({ type: "text", silent: true, z: 50, x: L.ytR[0], y: L.ytR[1], rotation: Math.PI / 2, style: { text: Y_TITLE, fontSize: 18, fontFamily: FONT, fill: "#111", align: "center", verticalAlign: "middle" } });
    const legStyle = [
      { stroke: "#000", lineWidth: 4.5, lineDash: null },
      { stroke: "#000", lineWidth: 1.6, lineDash: [5, 4] },
      { stroke: RED, lineWidth: 4.5, lineDash: null },
      { stroke: RED, lineWidth: 1.6, lineDash: [5, 4] },
    ];
    LEGEND.forEach((lab, k) => {
      const y = L.legY[k];
      graphics.push({ type: "line", silent: true, z: 50, shape: { x1: 1063, y1: y, x2: 1086, y2: y }, style: legStyle[k] });
      graphics.push({ type: "text", silent: true, z: 50, x: 1104, y, style: { text: lab, fontSize: 16, fontFamily: FONT, fill: "#111", align: "left", verticalAlign: "middle" } });
    });
  });

  return {
    animation: false,
    backgroundColor: "#ffffff",
    textStyle: { fontFamily: FONT },
    grid: grids, xAxis: xAxes, yAxis: yAxes, series, graphic: graphics,
  };
}

export default function App() {
  const ref = useRef<HTMLDivElement>(null);
  useEffect(() => {
    if (!ref.current) return;
    const chart = echarts.init(ref.current, null, { renderer: "svg" });
    chart.setOption(buildOption() as any);
    return () => chart.dispose();
  }, []);
  return <div ref={ref} style={{ position: "absolute", left: 0, top: 0, width: 1184, height: 1644, background: "#fff" }} />;
}
